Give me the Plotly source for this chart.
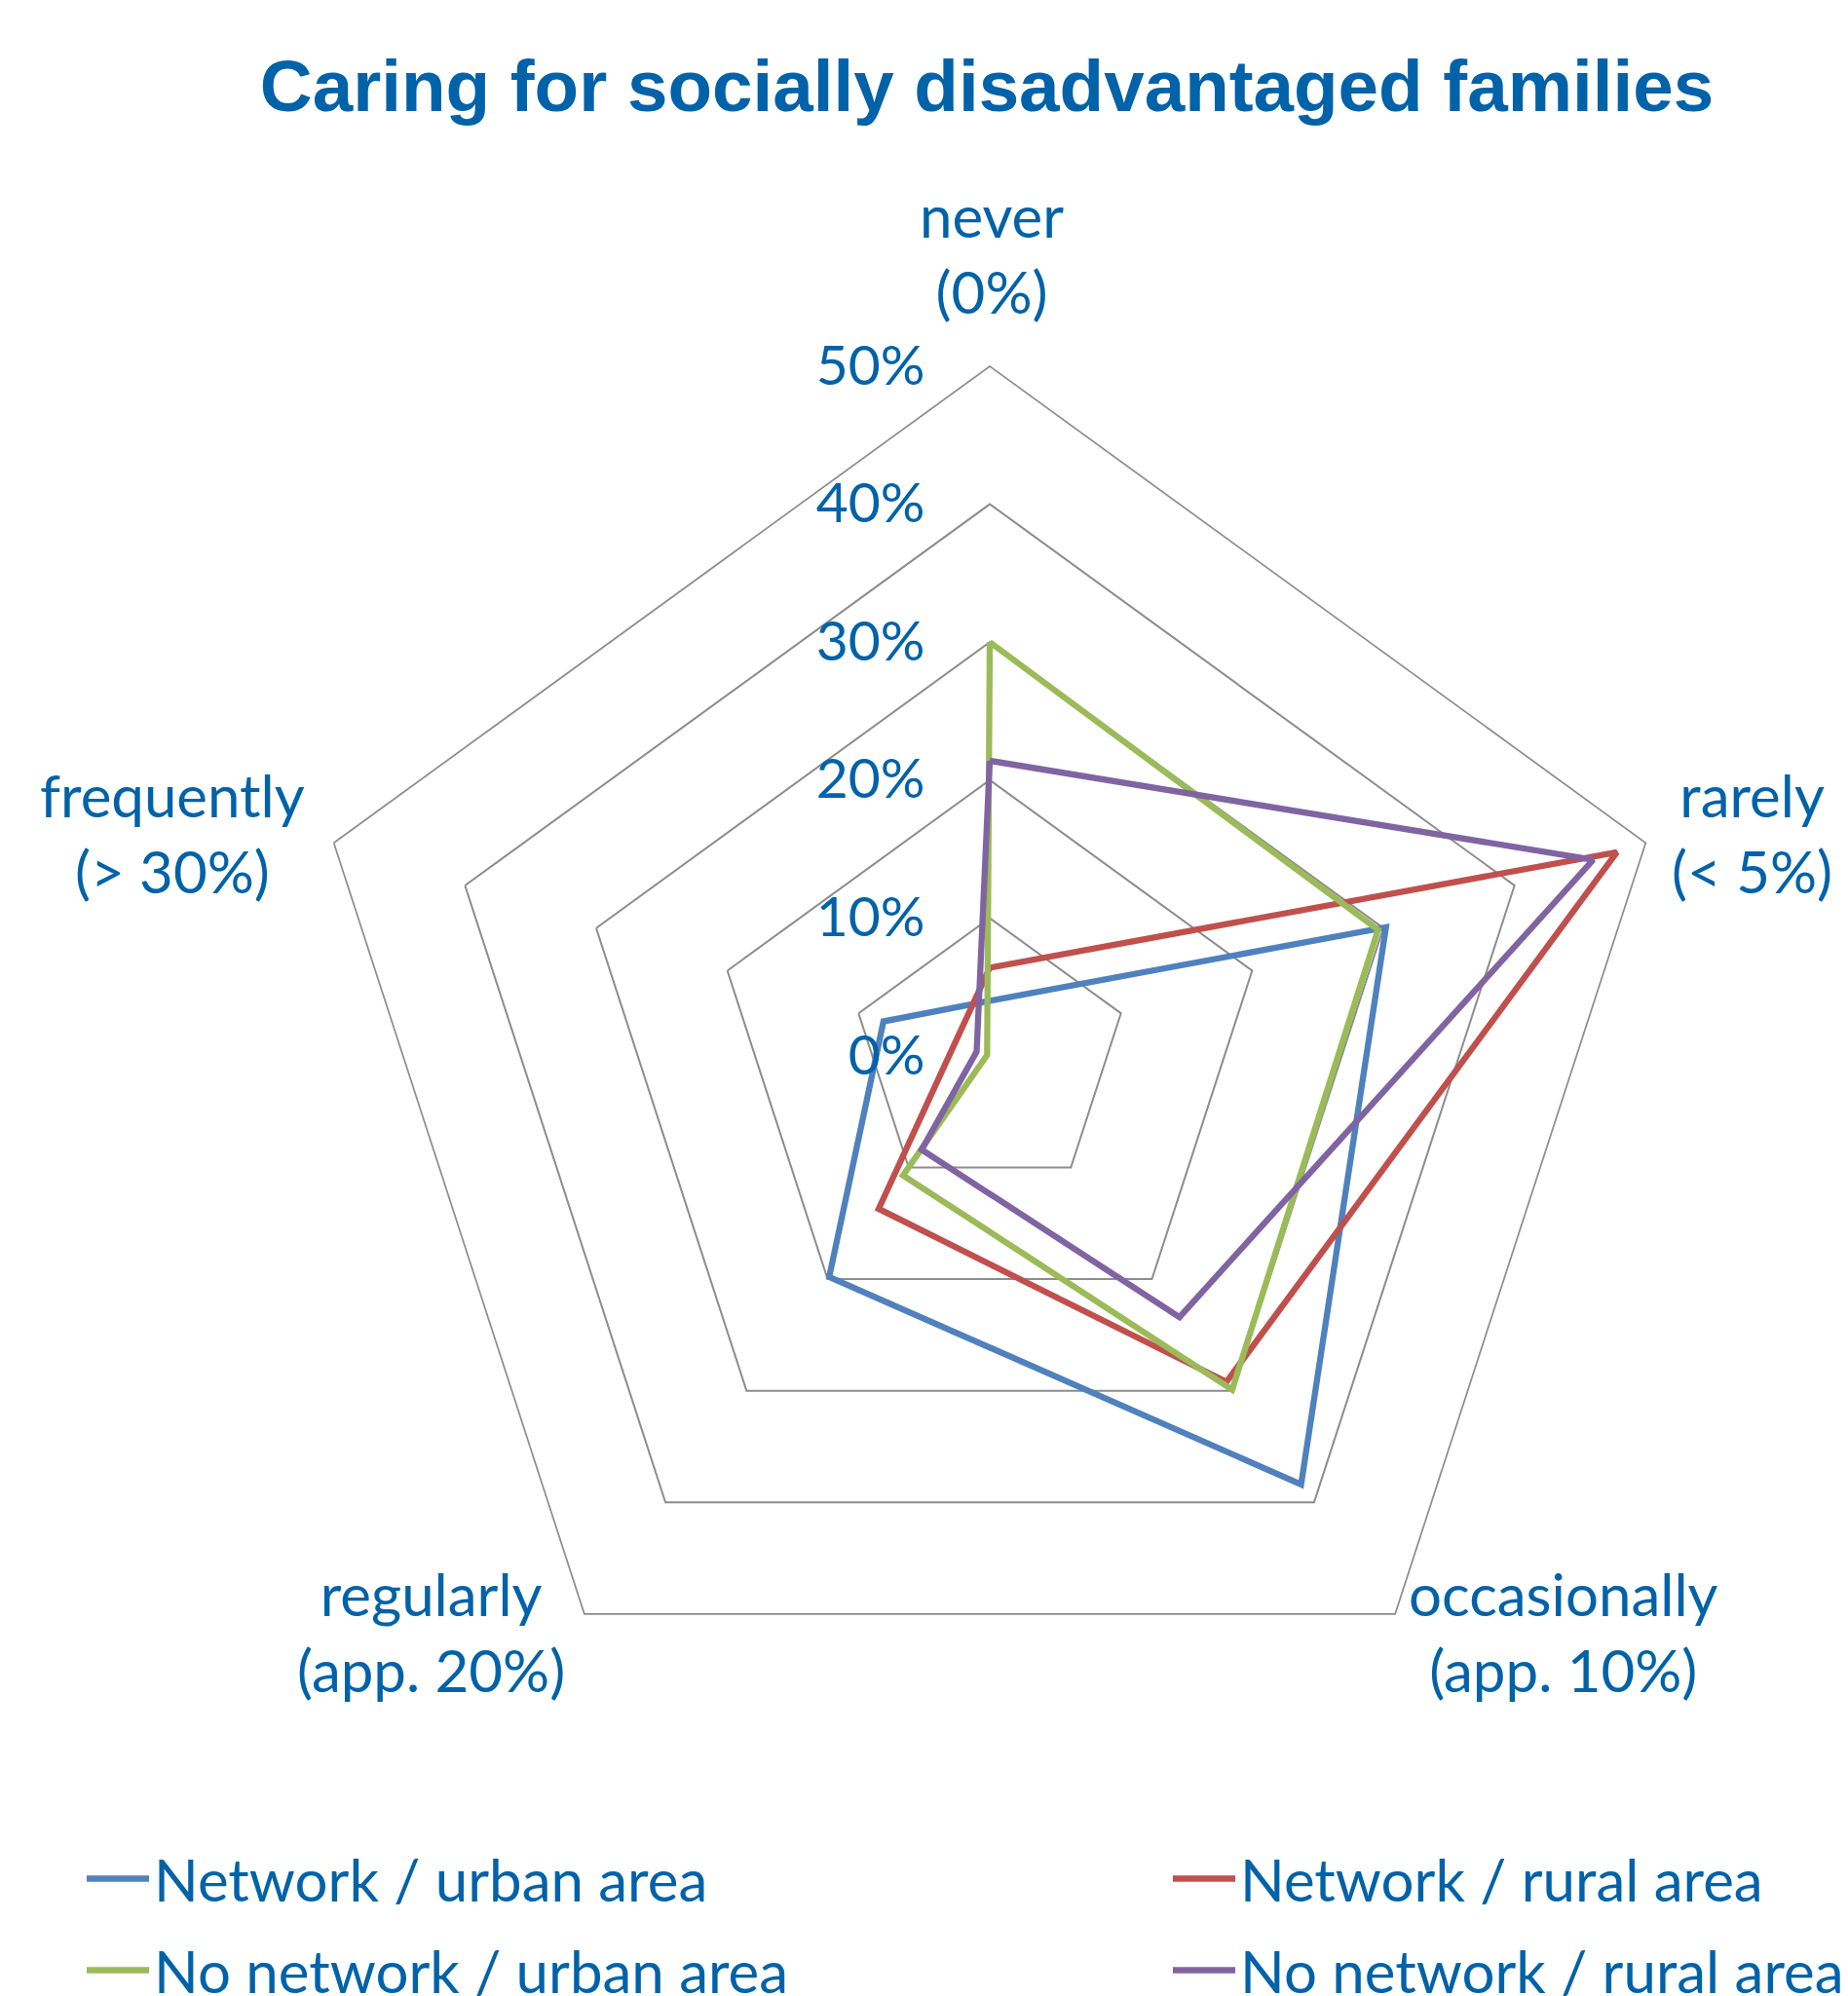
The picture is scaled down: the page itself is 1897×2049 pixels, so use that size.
import plotly.graph_objects as go

# ---- data ----
categories = ["never", "rarely", "occasionally", "regularly", "frequently"]
category_labels = ["never<br>(0%)", "rarely<br>(< 5%)", "occasionally<br>(app. 10%)",
                   "regularly<br>(app. 20%)", "frequently<br>(> 30%)"]
series_names = ["Network / urban area", "Network / rural area",
                "No network / urban area", "No network / rural area"]
network_urban = [4.0, 30.2, 38.4, 19.8, 8.1]
network_rural = [6.4, 47.8, 29.2, 13.7, 2.7]
no_network_urban = [30.0, 29.6, 29.9, 10.7, 0.2]
no_network_rural = [21.4, 46.0, 23.4, 8.4, 1.0]
radial_ticks = [0, 10, 20, 30, 40, 50]
radial_ticktext = ["0%", "10%", "20%", "30%", "40%", "50%"]

series_values = [network_urban, network_rural, no_network_urban, no_network_rural]
colors = ["#4F81BD", "#C0504D", "#9BBB59", "#8064A2"]
legend_ids = ["legend", "legend2", "legend", "legend2"]

TEXT = "#0062A8"
W, H = 1897, 2049
FONT = "Lato"

fig = go.Figure()
for i, (name, vals, col, lg) in enumerate(zip(series_names, series_values, colors, legend_ids)):
    fig.add_trace(go.Scatterpolar(
        r=vals + vals[:1],
        theta=categories + categories[:1],
        mode="lines",
        name=name,
        legend=lg,
        legendgroup="g%d" % i,
        line=dict(color=col, width=6.3),
    ))

# polar geometry (pixels) -> domain
cx, cy, R = 1008, 1076, 708
dom_x = [(cx - R) / W, (cx + R) / W]
dom_y = [(H - cy - R) / H, (H - cy + R) / H]

# category label positions (pixel centres)
label_pos = [(1010, 252), (1790, 847), (1597, 1667), (434, 1667), (169, 847)]
annotations = []
for txt, (px, py) in zip(category_labels, label_pos):
    annotations.append(dict(
        x=px / W, y=1 - py / H, xref="paper", yref="paper",
        text=txt, showarrow=False, xanchor="center", yanchor="middle",
        font=dict(family=FONT, size=60, color=TEXT), align="center",
    ))

legend_common = dict(
    orientation="v", xanchor="left", yanchor="top",
    font=dict(family=FONT, size=60, color=TEXT),
    bgcolor="rgba(0,0,0,0)", tracegroupgap=13, traceorder="grouped",
    itemwidth=64,
)

fig.update_layout(
    width=W, height=H,
    paper_bgcolor="white", plot_bgcolor="white",
    margin=dict(l=0, r=0, t=0, b=0, autoexpand=False),
    title=dict(text="<b>Caring for socially disadvantaged families</b>",
               x=1005 / W, xanchor="center", y=1 - 80 / H, yanchor="middle",
               font=dict(family="Liberation Sans, Arial", size=74.6, color=TEXT)),
    polar=dict(
        domain=dict(x=dom_x, y=dom_y),
        bgcolor="white",
        gridshape="linear",
        angularaxis=dict(
            rotation=90, direction="clockwise",
            categoryorder="array", categoryarray=categories,
            showgrid=False, showticklabels=False, ticks="",
            showline=True, linecolor="#8C8C8C", linewidth=1.7,
        ),
        radialaxis=dict(
            range=[0, 50], angle=90, tickangle=90,
            tickvals=radial_ticks, ticktext=radial_ticktext,
            showline=False, showgrid=True, gridcolor="#8C8C8C", gridwidth=1.7,
            ticks="outside", ticklen=46, tickcolor="rgba(0,0,0,0)",
            side="counterclockwise",
            tickfont=dict(family=FONT, size=57, color=TEXT),
        ),
    ),
    showlegend=True,
    legend=dict(x=76 / W, y=1 - 1875 / H, **legend_common),
    legend2=dict(x=1191 / W, y=1 - 1875 / H, **legend_common),
    annotations=annotations,
)

fig.write_html("out.html")
